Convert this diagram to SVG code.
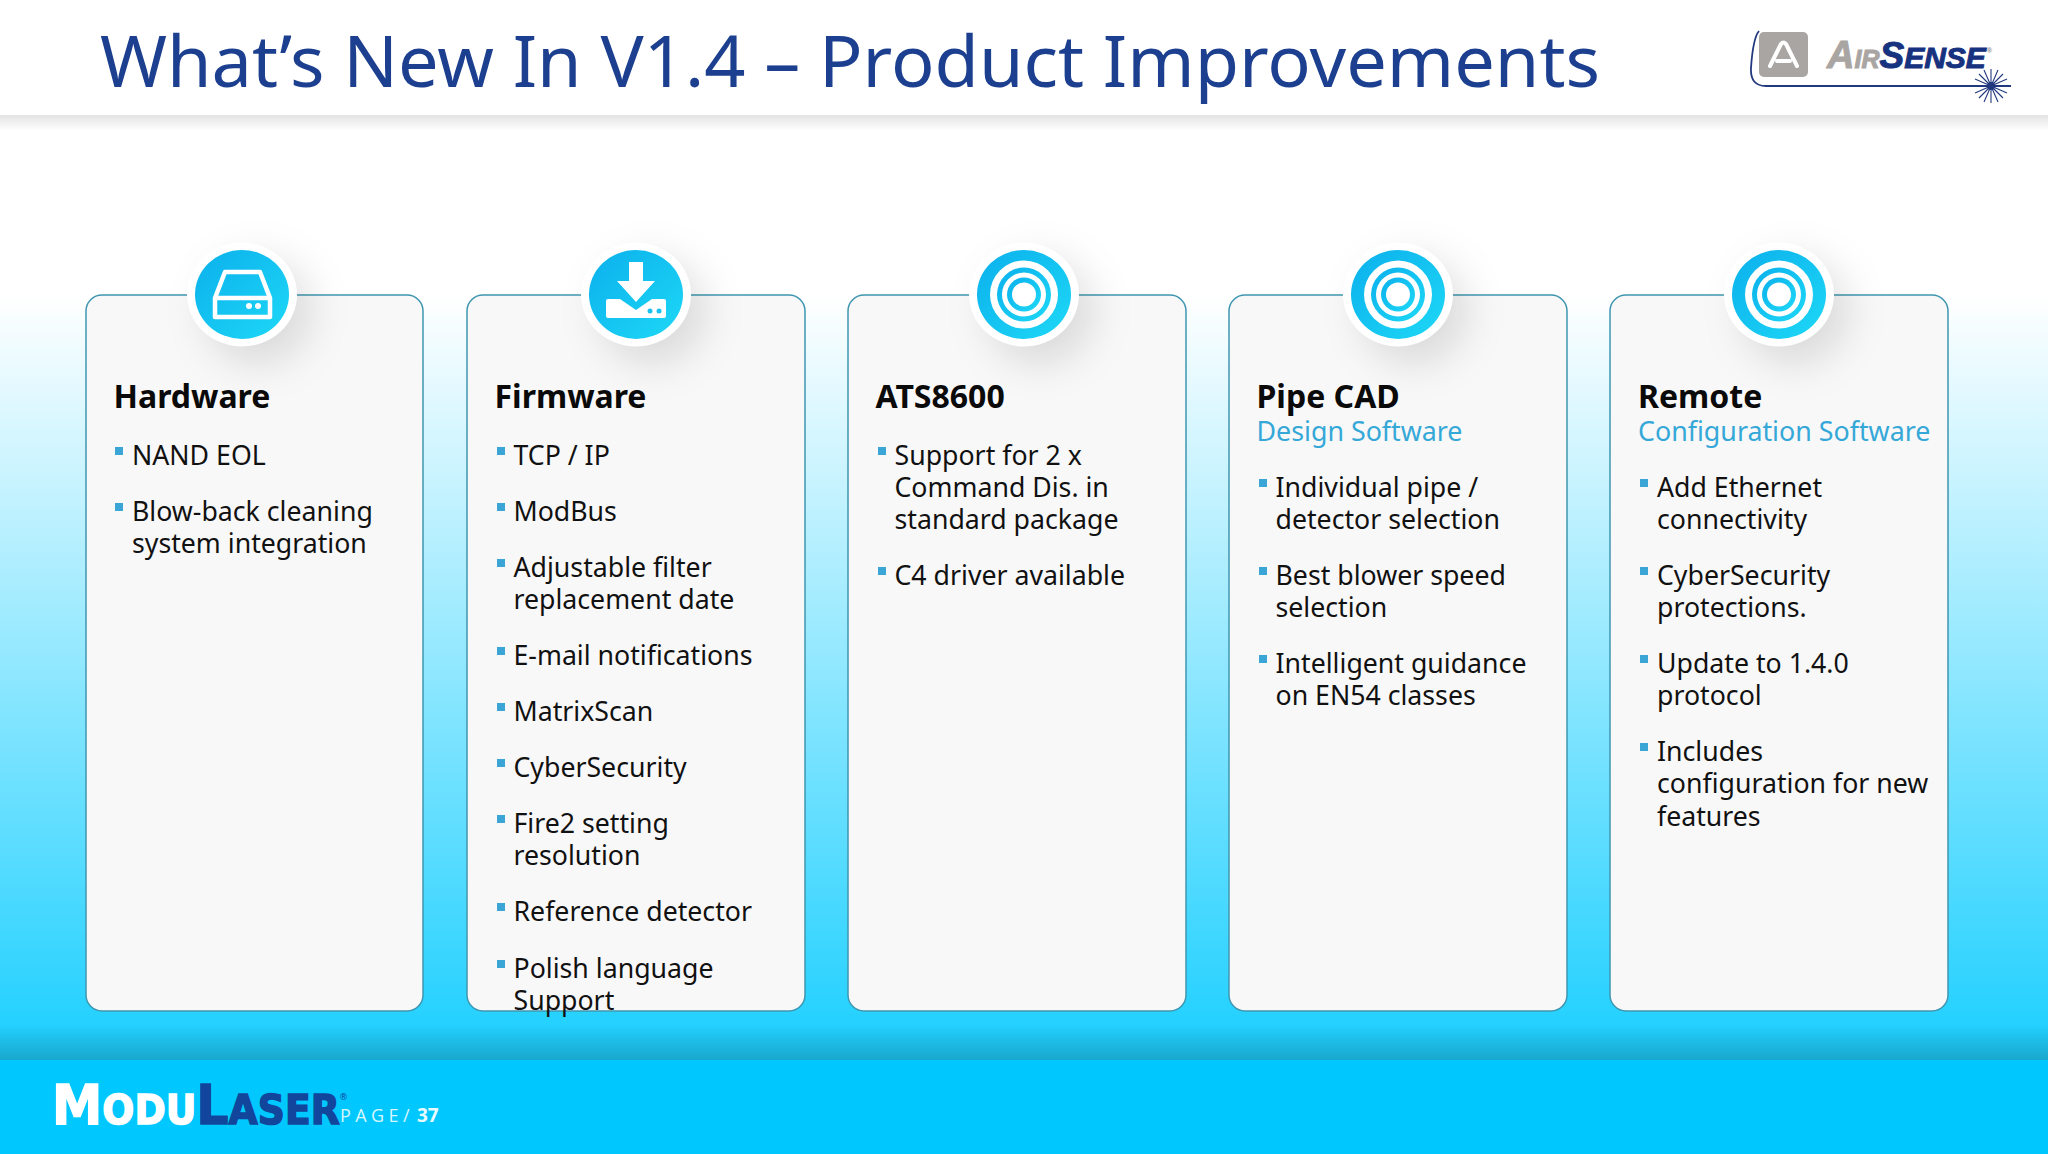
<svg xmlns="http://www.w3.org/2000/svg" width="2048" height="1154" viewBox="0 0 2048 1154">
<style>
text{font-family:"Noto Sans","Open Sans",sans-serif}
.card{fill:#f8f8f9;stroke:#3f96b0;stroke-width:1.5}
.h{font-size:32px;font-weight:700;fill:#0a0a0a}
.s{font-size:26.800px;fill:#35a8d8}
.t{font-size:26.700px;fill:#111}
.b{fill:#3ba6d6}
.ring{fill:#fff}
.blue{fill:url(#ib)}
</style>
<defs>
<linearGradient id="bg" gradientUnits="userSpaceOnUse" x1="0" y1="296" x2="0" y2="1040"><stop offset="0" stop-color="#fff"/><stop offset="1" stop-color="#20d0ff"/></linearGradient>
<linearGradient id="ib" x1="0" y1="0" x2="1" y2="1"><stop offset="0" stop-color="#0bb0ec"/><stop offset="1" stop-color="#1ed8f6"/></linearGradient>
<linearGradient id="hs" x1="0" y1="0" x2="0" y2="1"><stop offset="0" stop-color="#000" stop-opacity=".11"/><stop offset="1" stop-color="#000" stop-opacity="0"/></linearGradient>
<linearGradient id="fs" x1="0" y1="0" x2="0" y2="1"><stop offset="0" stop-color="#000" stop-opacity="0"/><stop offset="1" stop-color="#000" stop-opacity=".2"/></linearGradient>
<filter id="blur" x="-100%" y="-100%" width="300%" height="300%"><feGaussianBlur stdDeviation="20"/></filter>
<g id="target"><ellipse class="blue" rx="47" ry="44.500"/><circle class="ring" r="34"/><circle class="blue" r="27"/><circle class="ring" r="22"/><circle class="blue" r="17"/><circle class="ring" r="12"/></g>
<g id="disc"><circle cx="16" cy="16" r="52" fill="#000" fill-opacity=".13" filter="url(#blur)"/><ellipse class="ring" rx="55" ry="52"/></g>
</defs>
<rect id="background" x="0" y="115" width="2048" height="945" fill="url(#bg)"/>
<rect x="0" y="1025" width="2048" height="35" fill="url(#fs)"/>
<g id="header"><rect x="0" y="115" width="2048" height="16" fill="url(#hs)"/><rect width="2048" height="115" fill="#fff"/>
<text x="100" y="87" font-size="72.100" fill="#1c3f8f">What’s New In V1.4 – Product Improvements</text></g>
<g id="airsense-logo">
<rect x="1759" y="32" width="49" height="45" rx="5" fill="#a9a5a3"/>
<path d="M1770 66 L1781 44 Q1783.500 41 1786 44 L1797 66 M1777 61 H1790" fill="none" stroke="#fff" stroke-width="4" stroke-linecap="round" stroke-linejoin="round"/>
<path d="M1759 31 Q1753 38 1751 68 Q1750 86 1766 86 H2011" fill="none" stroke="#23397f" stroke-width="1.800"/>
<path d="M1991 69V103M1974 86H2008M1979 74L2003 98M2003 74L1979 98M1984 70L1998 102M1998 70L1984 102M1975 79L2007 93M2007 79L1975 93" stroke="#23397f" stroke-width="1.100" fill="none"/><circle cx="1991" cy="86" r="4" fill="#23397f"/>
<text x="1827" y="68" font-weight="700" font-style="italic" stroke-width="1" style="font-family:'Liberation Sans',sans-serif"><tspan font-size="38" fill="#a9a5a3" stroke="#a9a5a3">A</tspan><tspan font-size="25" fill="#a9a5a3" stroke="#a9a5a3">IR</tspan><tspan font-size="37" fill="#17327e" stroke="#17327e">S</tspan><tspan font-size="30" fill="#17327e" stroke="#17327e">ENSE</tspan><tspan font-size="7" dy="-15" dx="1" fill="#8a8a8a">®</tspan></text>
</g>
<g id="cards">
<g id="hardware"><rect class="card" x="86" y="295" width="337" height="716" rx="16"/>
<use href="#disc" x="242" y="294.500"/><ellipse class="blue" cx="242" cy="294.500" rx="47" ry="44.500"/>
<path d="M225 272H260L270 298V317H215V298ZM215 298H270" fill="none" stroke="#fff" stroke-width="4.500" stroke-linejoin="round"/><circle cx="249" cy="306" r="3" fill="#fff"/><circle cx="258" cy="306" r="3" fill="#fff"/>
<text class="h" x="113.500" y="407.500">Hardware</text>
<rect class="b" x="115" y="447" width="8" height="8"/><text class="t" x="132" y="465">NAND EOL</text>
<rect class="b" x="115" y="503" width="8" height="8"/><text class="t" x="132" y="521">Blow-back cleaning</text><text class="t" x="132" y="553">system integration</text>
</g>
<g id="firmware"><rect class="card" x="467" y="295" width="338" height="716" rx="16"/>
<use href="#disc" x="636" y="294.500"/><ellipse class="blue" cx="636" cy="294.500" rx="47" ry="44.500"/>
<path d="M629 262H643V281H655L636 302L617 281H629Z" fill="#fff"/><path d="M608 299H620L636 310L652 299H664Q666 299 666 301V316Q666 318 664 318H608Q606 318 606 316V301Q606 299 608 299Z" fill="#fff"/><circle cx="650" cy="311" r="2.500" fill="#1cc2ef"/><circle cx="659" cy="311" r="2.500" fill="#1cc2ef"/>
<text class="h" x="494.500" y="407.500">Firmware</text>
<rect class="b" x="497" y="447" width="8" height="8"/><text class="t" x="513.500" y="465">TCP / IP</text>
<rect class="b" x="497" y="503" width="8" height="8"/><text class="t" x="513.500" y="521">ModBus</text>
<rect class="b" x="497" y="559" width="8" height="8"/><text class="t" x="513.500" y="577">Adjustable filter</text><text class="t" x="513.500" y="609">replacement date</text>
<rect class="b" x="497" y="647" width="8" height="8"/><text class="t" x="513.500" y="665">E-mail notifications</text>
<rect class="b" x="497" y="703" width="8" height="8"/><text class="t" x="513.500" y="721">MatrixScan</text>
<rect class="b" x="497" y="759" width="8" height="8"/><text class="t" x="513.500" y="777">CyberSecurity</text>
<rect class="b" x="497" y="815" width="8" height="8"/><text class="t" x="513.500" y="833">Fire2 setting</text><text class="t" x="513.500" y="865">resolution</text>
<rect class="b" x="497" y="903" width="8" height="8"/><text class="t" x="513.500" y="921">Reference detector</text>
<rect class="b" x="497" y="960" width="8" height="8"/><text class="t" x="513.500" y="977.500">Polish language</text><text class="t" x="513.500" y="1009.500">Support</text>
</g>
<g id="ats8600"><rect class="card" x="848" y="295" width="338" height="716" rx="16"/>
<use href="#disc" x="1024" y="294.500"/><use href="#target" x="1024" y="294.500"/>
<text class="h" x="875.500" y="407.500">ATS8600</text>
<rect class="b" x="878" y="447" width="8" height="8"/><text class="t" x="894.500" y="465">Support for 2 x</text><text class="t" x="894.500" y="497">Command Dis. in</text><text class="t" x="894.500" y="529">standard package</text>
<rect class="b" x="878" y="567" width="8" height="8"/><text class="t" x="894.500" y="585">C4 driver available</text>
</g>
<g id="pipe-cad"><rect class="card" x="1229" y="295" width="338" height="716" rx="16"/>
<use href="#disc" x="1398" y="294.500"/><use href="#target" x="1398" y="294.500"/>
<text class="h" x="1256.500" y="407.500">Pipe CAD</text><text class="s" x="1256.500" y="441">Design Software</text>
<rect class="b" x="1259" y="479" width="8" height="8"/><text class="t" x="1275.500" y="497">Individual pipe /</text><text class="t" x="1275.500" y="529">detector selection</text>
<rect class="b" x="1259" y="567" width="8" height="8"/><text class="t" x="1275.500" y="585">Best blower speed</text><text class="t" x="1275.500" y="617">selection</text>
<rect class="b" x="1259" y="655" width="8" height="8"/><text class="t" x="1275.500" y="673">Intelligent guidance</text><text class="t" x="1275.500" y="705">on EN54 classes</text>
</g>
<g id="remote"><rect class="card" x="1610" y="295" width="338" height="716" rx="16"/>
<use href="#disc" x="1779" y="294.500"/><use href="#target" x="1779" y="294.500"/>
<text class="h" x="1638" y="407.500">Remote</text><text class="s" x="1638" y="441">Configuration Software</text>
<rect class="b" x="1640" y="479" width="8" height="8"/><text class="t" x="1657" y="497">Add Ethernet</text><text class="t" x="1657" y="529">connectivity</text>
<rect class="b" x="1640" y="567" width="8" height="8"/><text class="t" x="1657" y="585">CyberSecurity</text><text class="t" x="1657" y="617">protections.</text>
<rect class="b" x="1640" y="655" width="8" height="8"/><text class="t" x="1657" y="673">Update to 1.4.0</text><text class="t" x="1657" y="705">protocol</text>
<rect class="b" x="1640" y="743" width="8" height="8"/><text class="t" x="1657" y="761">Includes</text><text class="t" x="1657" y="793">configuration for new</text><text class="t" x="1657" y="825.500">features</text>
</g>
</g>
<g id="footer"><rect x="0" y="1060" width="2048" height="94" fill="#00c8ff"/>
<text transform="translate(52 1124) scale(.92 1)" x="0" y="0" font-weight="700" stroke-width="1.500" style="font-family:'DejaVu Sans',sans-serif"><tspan font-size="55" fill="#fff" stroke="#fff">M</tspan><tspan font-size="41" fill="#fff" stroke="#fff">ODU</tspan><tspan font-size="55" fill="#12469c" stroke="#12469c">L</tspan><tspan font-size="41" fill="#12469c" stroke="#12469c">ASER</tspan></text>
<text x="339" y="1100" font-size="9" fill="#12469c" style="font-family:'DejaVu Sans',sans-serif">®</text>
<text x="340" y="1122" font-size="18" letter-spacing="4.400" fill="#d8f6ff" style="font-family:'Open Sans',sans-serif">PAGE/</text>
<text x="417" y="1122" font-size="19" font-weight="700" fill="#eafbff" style="font-family:'Open Sans',sans-serif">37</text>
</g>
</svg>
